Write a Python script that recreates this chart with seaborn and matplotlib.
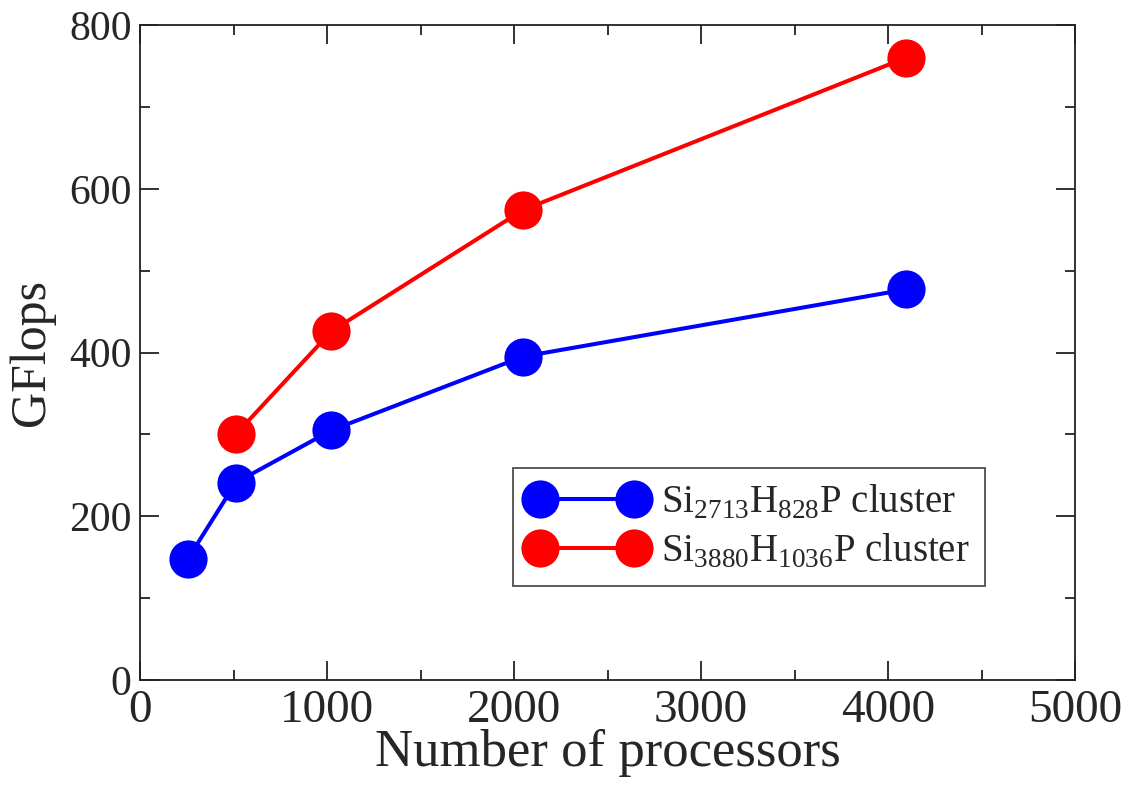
import matplotlib
matplotlib.use("Agg")
import matplotlib.pyplot as plt
import seaborn as sns
import pandas as pd
from matplotlib.ticker import MultipleLocator
from matplotlib.lines import Line2D

procs_small = [256, 512, 1024, 2048, 4096]
gflops_small = [148, 241, 305, 395, 477]
procs_large = [512, 1024, 2048, 4096]
gflops_large = [300, 426, 574, 760]
label_small = r"Si$_\mathrm{2713}$H$_\mathrm{828}$P cluster"
label_large = r"Si$_\mathrm{3880}$H$_\mathrm{1036}$P cluster"

sns.set_style("ticks")
plt.rcParams["font.family"] = ["Liberation Serif", "DejaVu Serif"]
plt.rcParams["mathtext.fontset"] = "custom"
plt.rcParams["mathtext.rm"] = "Liberation Serif"

df = pd.concat([
    pd.DataFrame({"procs": procs_small, "gflops": gflops_small, "series": label_small}),
    pd.DataFrame({"procs": procs_large, "gflops": gflops_large, "series": label_large}),
])

fig = plt.figure(figsize=(11.35, 7.85), dpi=100)
ax = fig.add_axes([140/1135, 1-680/785, 935/1135, 655/785])

MS = 27.5
LW = 2.9
sns.lineplot(data=df, x="procs", y="gflops", hue="series",
             palette={label_small: "#0000ff", label_large: "#ff0000"},
             marker="o", markersize=MS, markeredgewidth=0, linewidth=LW,
             ax=ax, legend=False)

ax.set_xlim(0, 5000)
ax.set_ylim(0, 800)
ax.xaxis.set_major_locator(MultipleLocator(1000))
ax.xaxis.set_minor_locator(MultipleLocator(500))
ax.yaxis.set_major_locator(MultipleLocator(200))
ax.yaxis.set_minor_locator(MultipleLocator(100))
ax.tick_params(which="both", direction="in", top=True, right=True, width=1.3, color="#222222")
ax.tick_params(which="major", length=14)
ax.tick_params(which="minor", length=7)
ax.tick_params(axis="x", which="major", labelsize=34, pad=7)
ax.tick_params(axis="y", which="major", labelsize=30, pad=6)
for s in ax.spines.values():
    s.set_linewidth(1.3)
    s.set_color("#222222")
ax.set_xlabel("Number of processors", fontsize=38, labelpad=-2)
ax.set_ylabel("GFlops", fontsize=36, labelpad=10)

handles = [Line2D([], [], color="#0000ff", marker="o", markersize=MS, markeredgewidth=0, linewidth=LW),
           Line2D([], [], color="#ff0000", marker="o", markersize=MS, markeredgewidth=0, linewidth=LW)]
leg = ax.legend(handles, [label_small, label_large], loc="upper left",
                bbox_to_anchor=((513-140)/935, 1-(468-25)/655), numpoints=2,
                fontsize=28, frameon=True, fancybox=False, edgecolor="#222222",
                handlelength=3.0, handletextpad=0.4, borderpad=0.4, labelspacing=0.27,
                borderaxespad=0)
leg.get_frame().set_linewidth(1.3)

fig.savefig("out.png", dpi=100)
